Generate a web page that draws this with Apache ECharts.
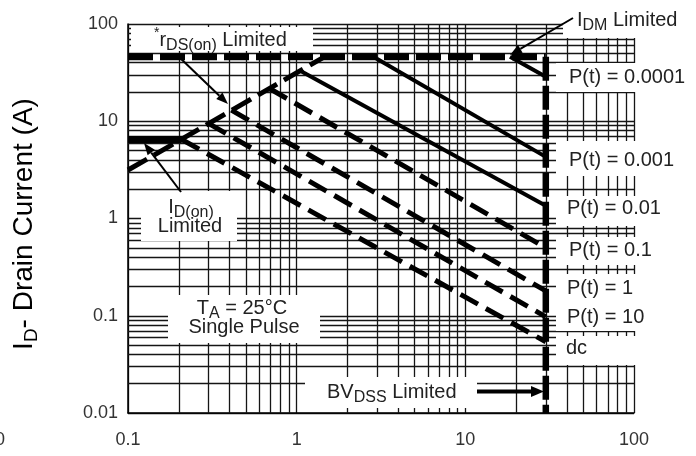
<!DOCTYPE html>
<html>
<head>
<meta charset="utf-8">
<script src="https://cdn.jsdelivr.net/npm/echarts@6/dist/echarts.min.js"></script>
<style>
  html, body { margin: 0; padding: 0; background: #fff; }
  #chart { width: 696px; height: 456px; }
</style>
</head>
<body>
<div id="chart"></div>
<script>
// ---- Axis ticks (log decades) ----
const xTicks = [0.1, 1, 10, 100];
const xTickLabels = ['0.1', '1', '10', '100'];
const yTicks = [0.01, 0.1, 1, 10, 100];
const yTickLabels = ['0.01', '0.1', '1', '10', '100'];

// Minor grid values (2..9 of every decade)
const xMinor = [0.2, 0.3, 0.4, 0.5, 0.6, 0.7, 0.8, 0.9, 2, 3, 4, 5, 6, 7, 8, 9, 20, 30, 40, 50, 60, 70, 80, 90];
const yMinor = [0.02, 0.03, 0.04, 0.05, 0.06, 0.07, 0.08, 0.09, 0.2, 0.3, 0.4, 0.5, 0.6, 0.7, 0.8, 0.9,
                2, 3, 4, 5, 6, 7, 8, 9, 20, 30, 40, 50, 60, 70, 80, 90];

// ---- Limit boundaries, [V_DS (V), I_D (A)] ----
const rdsOnLimit = [[0.1, 3.15], [1.46, 46]];
const idOnLimit  = [[0.1, 6.5], [0.208, 6.5]];
const idmLimit   = [[0.1, 46], [30, 46]];
const bvdssLimit = [[30, 46], [30, 0.01]];

// ---- Pulse curves, [V_DS (V), I_D (A)] ----
const pulse0001 = [[18.4, 46], [30, 28.7]];
const pulse001  = [[2.85, 46], [30, 4.3]];
const pulse01   = [[1.05, 33], [30, 1.35]];
const pulse1    = [[0.69, 21.7], [30, 0.50]];
const pulse1s   = [[0.41, 13], [30, 0.18]];
const pulse10   = [[0.30, 9.5], [30, 0.0975]];
const pulseDC   = [[0.208, 6.5], [30, 0.054]];

const FONT = '"Liberation Sans", Arial, Helvetica, sans-serif';
const INK = '#222';
const GRID = '#151515';

function tickFormatter(ticks, labels) {
  return function (v) {
    const i = ticks.findIndex(t => Math.abs(Math.log10(t) - Math.log10(v)) < 1e-6);
    return i >= 0 ? labels[i] : '';
  };
}

function curve(name, data, width, dash, z) {
  return {
    type: 'line', name: name, data: data, symbol: 'none', silent: true,
    animation: false, z: z || 5, clip: false,
    lineStyle: { color: '#000', width: width, type: dash || 'solid', cap: 'butt', join: 'miter' }
  };
}

// Minor grid drawn through the axes as mark lines
const gridSeries = {
  type: 'line', data: [], silent: true, animation: false, z: 1,
  markLine: {
    z: 1, silent: true, animation: false, symbol: ['none', 'none'], label: { show: false },
    lineStyle: { type: 'solid', color: GRID, width: 1.3 },
    emphasis: { disabled: true },
    data: xMinor.map(v => ({ xAxis: v })).concat(yMinor.map(v => ({ yAxis: v })))
  }
};

// ---- Annotation helpers ----
const rich = {
  m:  { fontSize: 20, lineHeight: 28, fontFamily: FONT, color: INK },
  s:  { fontSize: 16, lineHeight: 16, fontFamily: FONT, color: INK, verticalAlign: 'bottom' },
  st: { fontSize: 14, lineHeight: 14, fontFamily: FONT, color: INK, verticalAlign: 'top' }
};

function label(x, y, text, align) {
  return {
    type: 'text', x: x, y: y, z: 30, silent: true,
    style: { text: text, rich: rich, align: align || 'left', verticalAlign: 'middle', font: '20px ' + FONT, fill: INK }
  };
}

function box(x, y, w, h) {
  return { type: 'rect', z: 3, silent: true, shape: { x: x, y: y, width: w, height: h }, style: { fill: '#fff' } };
}

function arrow(x1, y1, x2, y2, w, len, wid) {
  const a = Math.atan2(y2 - y1, x2 - x1);
  const bx = x2 - len * Math.cos(a), by = y2 - len * Math.sin(a);
  const px = -Math.sin(a) * wid / 2, py = Math.cos(a) * wid / 2;
  return [
    { type: 'line', z: 30, silent: true, shape: { x1: x1, y1: y1, x2: bx, y2: by }, style: { stroke: '#000', lineWidth: w } },
    { type: 'polygon', z: 30, silent: true, shape: { points: [[x2, y2], [bx + px, by + py], [bx - px, by - py]] }, style: { fill: '#000' } }
  ];
}

const graphics = [
  // white label panels
  box(131, 27, 182, 24),
  box(141, 191, 96, 50),
  box(168, 295, 152, 48),
  box(305, 377, 172, 31),
  box(563, 2, 133, 36),
  box(556, 63, 140, 29),
  box(556, 141, 140, 35),
  box(556, 196, 140, 30),
  box(556, 237, 140, 28),
  box(556, 274, 140, 57),
  box(556, 336, 140, 29),

  label(154, 40, '{st|*}{m|r}{s|DS(on)}{m| Limited}'),
  label(191, 207, '{m|I}{s|D(on)}', 'center'),
  label(190, 226, '{m|Limited}', 'center'),
  label(242, 308, '{m|T}{s|A}{m| = 25°C}', 'center'),
  label(244, 327, '{m|Single Pulse}', 'center'),
  label(327, 392, '{m|BV}{s|DSS}{m| Limited}'),
  label(577, 20, '{m|I}{s|DM}{m| Limited}'),
  label(569, 77, '{m|P(t) = 0.0001}'),
  label(569, 160, '{m|P(t) = 0.001}'),
  label(567, 208, '{m|P(t) = 0.01}'),
  label(569, 250, '{m|P(t) = 0.1}'),
  label(567, 288, '{m|P(t) = 1}'),
  label(567, 317, '{m|P(t) = 10}'),
  label(566, 348, '{m|dc}'),

  // clipped fragment at the left page edge
  { type: 'text', x: 5, y: 440, z: 30, silent: true,
    style: { text: '0', align: 'right', verticalAlign: 'middle', font: '18px ' + FONT, fill: '#333' } },

  // y-axis title
  {
    type: 'text', x: 24, y: 224, rotation: Math.PI / 2, z: 30, silent: true,
    style: {
      text: '{t|I}{ts|D}{t|- Drain Current (A)}', align: 'center', verticalAlign: 'middle',
      rich: {
        t:  { fontSize: 28, lineHeight: 34, fontFamily: FONT, color: '#111' },
        ts: { fontSize: 19, lineHeight: 19, fontFamily: FONT, color: '#111', verticalAlign: 'bottom' }
      }
    }
  }
]
  .concat(arrow(177, 55, 228, 104, 2, 12, 9))
  .concat(arrow(181, 192, 144, 143, 2, 12, 9))
  .concat(arrow(573, 18, 510, 55, 2, 12, 9))
  .concat(arrow(477, 391.5, 544, 391.5, 4, 13, 11));

const axisCommon = {
  type: 'log', logBase: 10,
  axisLine: { show: true, lineStyle: { color: '#000', width: 1.5 } },
  axisTick: { show: false },
  splitLine: { show: true, lineStyle: { color: GRID, width: 1.3 } },
  minorTick: { show: false },
  minorSplitLine: { show: false }
};

const chart = echarts.init(document.getElementById('chart'), null, { renderer: 'canvas' });
chart.setOption({
  animation: false,
  backgroundColor: '#fff',
  grid: { left: 128, right: 62, top: 24, bottom: 43, containLabel: false },
  xAxis: Object.assign({}, axisCommon, {
    min: 0.1, max: 100,
    axisLabel: { fontSize: 18, color: '#333', fontFamily: FONT, margin: 18, showMinLabel: true, showMaxLabel: true,
                 formatter: tickFormatter(xTicks, xTickLabels) }
  }),
  yAxis: Object.assign({}, axisCommon, {
    min: 0.01, max: 100,
    axisLabel: { fontSize: 18, color: '#333', fontFamily: FONT, margin: 10, showMinLabel: true, showMaxLabel: true,
                 formatter: tickFormatter(yTicks, yTickLabels) }
  }),
  series: [
    gridSeries,
    curve('rDS(on) limit', rdsOnLimit, 5, [22, 8]),
    curve('ID(on) limit', idOnLimit, 7),
    curve('IDM limit', idmLimit, 7, [25, 7], 6),
    curve('BVDSS limit', bvdssLimit, 6.5, [24, 5], 6),
    curve('P(t) = 0.0001', pulse0001, 4),
    curve('P(t) = 0.001', pulse001, 4),
    curve('P(t) = 0.01', pulse01, 4),
    curve('P(t) = 0.1', pulse1, 5, [20, 9]),
    curve('P(t) = 1', pulse1s, 5, [20, 9]),
    curve('P(t) = 10', pulse10, 5, [20, 9]),
    curve('dc', pulseDC, 5, [20, 9])
  ],
  graphic: { elements: graphics }
});
</script>
</body>
</html>
